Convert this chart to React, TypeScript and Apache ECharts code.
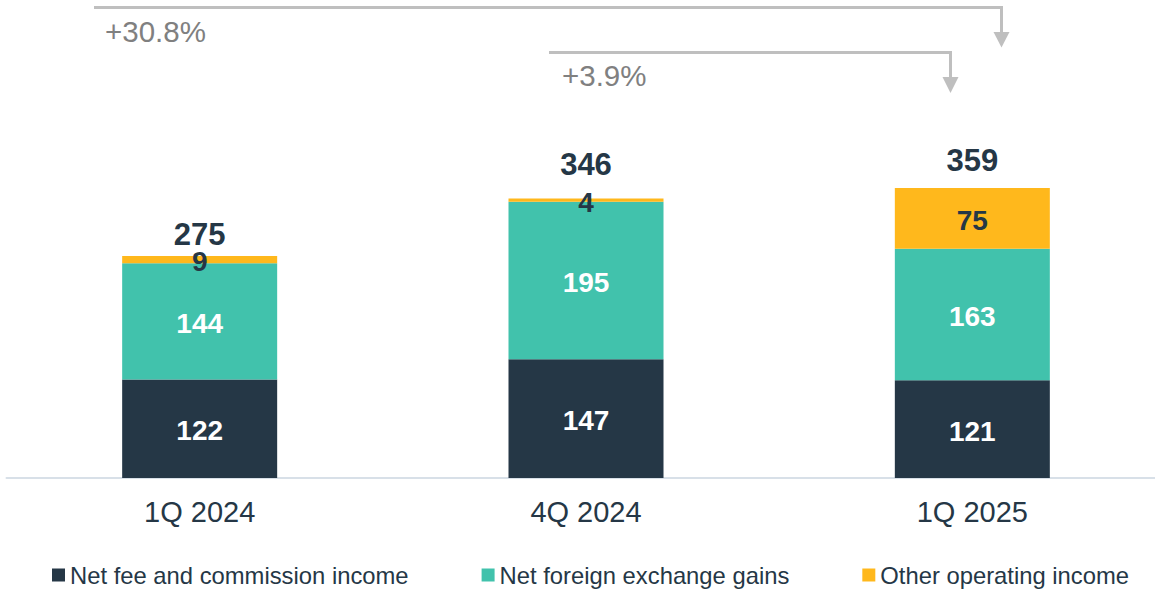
import React, { useEffect, useRef } from "react";
import * as echarts from "echarts";

const categories = ["1Q 2024", "4Q 2024", "1Q 2025"];
const seriesNames = ["Net fee and commission income", "Net foreign exchange gains", "Other operating income"];
const netFee = [122, 147, 121];
const fxGains = [144, 195, 163];
const otherIncome = [9, 4, 75];
const growthLabels = ["+30.8%", "+3.9%"];

const FONT = "'Liberation Sans', Arial, sans-serif";
const DARK = "#253746";
const TEAL = "#41C2AC";
const ORANGE = "#FFB81C";
const GREY = "#BFBFBF";
const totalLabelDistance = [5.5, 18.5, 11.5];

export default function App() {
  const ref = useRef<HTMLDivElement>(null);
  useEffect(() => {
    if (!ref.current) return;
    const chart = echarts.init(ref.current, null, { renderer: "svg" });
    const totals = categories.map((_, i) => netFee[i] + fxGains[i] + otherIncome[i]);
    const innerLabel = (color: string) => ({
      show: true,
      position: "inside",
      offset: [0, 2],
      color,
      fontFamily: FONT,
      fontWeight: "bold",
      fontSize: 28,
      lineHeight: 21,
    });
    const arrowStyle = { stroke: GREY, lineWidth: 3, fill: "none" };
    chart.setOption({
      animation: false,
      grid: { left: 6.5, right: 5.5, top: 155, bottom: 112, outerBoundsMode: "none" },
      legend: {
        left: 47,
        top: 558,
        itemWidth: 13,
        itemHeight: 13,
        itemGap: 73,
        icon: "rect",
        textStyle: { fontFamily: FONT, fontSize: 23.8, color: DARK },
        data: seriesNames,
      },
      xAxis: {
        type: "category",
        data: categories,
        axisTick: { show: false },
        axisLine: { lineStyle: { color: "#D8E0E8", width: 2 } },
        axisLabel: { margin: 19, fontFamily: FONT, fontSize: 29, color: DARK },
      },
      yAxis: { type: "value", min: 0, max: 400, show: false, splitLine: { show: false } },
      series: [
        {
          name: seriesNames[0],
          type: "bar",
          stack: "t",
          barWidth: 155,
          data: netFee,
          itemStyle: { color: DARK },
          label: innerLabel("#FFFFFF"),
        },
        {
          name: seriesNames[1],
          type: "bar",
          stack: "t",
          barWidth: 155,
          data: fxGains,
          itemStyle: { color: TEAL },
          label: innerLabel("#FFFFFF"),
        },
        {
          name: seriesNames[2],
          type: "bar",
          stack: "t",
          barWidth: 155,
          data: otherIncome,
          itemStyle: { color: ORANGE },
          label: innerLabel(DARK),
        },
        {
          name: "Total",
          type: "scatter",
          data: totals.map((v, i) => ({
            value: v,
            label: { distance: totalLabelDistance[i] },
          })),
          symbolSize: 1,
          itemStyle: { color: "rgba(0,0,0,0)", opacity: 1 },
          silent: true,
          label: {
            show: true,
            position: "top",
            color: DARK,
            fontFamily: FONT,
            fontWeight: "bold",
            fontSize: 31,
          },
        },
      ],
      graphic: [
        { type: "polyline", shape: { points: [[94, 7.5], [1001.5, 7.5], [1001.5, 33]] }, style: arrowStyle },
        { type: "polygon", shape: { points: [[993.5, 32], [1009.5, 32], [1001.5, 47.5]] }, style: { fill: GREY } },
        { type: "polyline", shape: { points: [[549, 52.5], [950.5, 52.5], [950.5, 78]] }, style: arrowStyle },
        { type: "polygon", shape: { points: [[942.5, 77], [958.5, 77], [950.5, 93]] }, style: { fill: GREY } },
        {
          type: "text",
          x: 105,
          y: 31,
          style: { text: growthLabels[0], fontFamily: FONT, fontSize: 29.5, fill: "#808080", verticalAlign: "middle" },
        },
        {
          type: "text",
          x: 562,
          y: 75,
          style: { text: growthLabels[1], fontFamily: FONT, fontSize: 29.5, fill: "#808080", verticalAlign: "middle" },
        },
      ],
    });
    return () => chart.dispose();
  }, []);
  return (
    <div style={{ position: "fixed", left: 0, top: 0, width: 1155, height: 590, overflow: "hidden", background: "#fff" }}>
      <div ref={ref} style={{ position: "absolute", left: 0, top: 0, width: 1171, height: 590 }} />
    </div>
  );
}
